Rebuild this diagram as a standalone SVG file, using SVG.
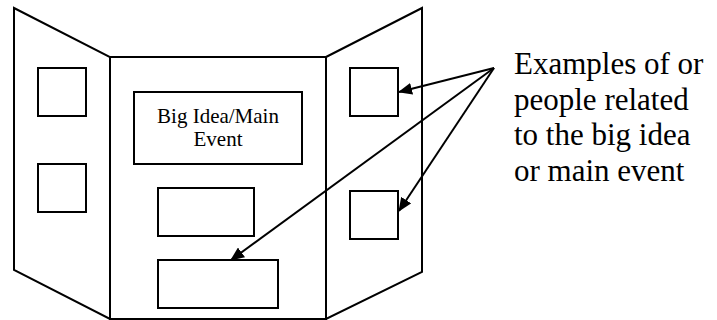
<svg xmlns="http://www.w3.org/2000/svg" width="717" height="320" viewBox="0 0 717 320">
  <style>
    .panel { fill: #ffffff; stroke: #000000; stroke-width: 2; stroke-linejoin: miter; }
    .box { fill: #ffffff; stroke: #000000; stroke-width: 2; }
    .conn { fill: none; stroke: #000000; stroke-width: 2; marker-end: url(#arrow); }
    .lbl { font-family: "Liberation Serif", "Times New Roman", serif; fill: #000000; }
    .small { font-size: 21px; text-anchor: middle; }
    .big { font-size: 31px; }
  </style>
  <defs>
    <marker id="arrow" markerUnits="userSpaceOnUse" markerWidth="14" markerHeight="12" refX="13" refY="6" orient="auto">
      <path d="M0,0 L14,6 L0,12 z" fill="#000000"/>
    </marker>
  </defs>
  <rect width="717" height="320" fill="#ffffff"/>

  <g id="left-panel">
    <polygon class="panel" points="14,8 110,57 110,319 14,270"/>
  </g>
  <g id="center-panel">
    <rect class="panel" x="110" y="57" width="216" height="262"/>
  </g>
  <g id="right-panel">
    <polygon class="panel" points="326,57 422,8 422,272 326,319"/>
  </g>

  <g id="left-square-1"><rect class="box" x="38" y="68" width="48" height="48"/></g>
  <g id="left-square-2"><rect class="box" x="38" y="164" width="48" height="48"/></g>

  <g id="big-idea">
    <rect class="box" x="134" y="92" width="168" height="72"/>
    <text class="lbl small" x="218" y="122.5">Big Idea/Main</text>
    <text class="lbl small" x="218" y="146">Event</text>
  </g>
  <g id="center-box-1"><rect class="box" x="158" y="188" width="96" height="48"/></g>
  <g id="center-box-2"><rect class="box" x="158" y="260" width="120" height="48"/></g>

  <g id="right-square-1"><rect class="box" x="350" y="68" width="48" height="48"/></g>
  <g id="right-square-2"><rect class="box" x="350" y="191" width="48" height="48"/></g>

  <g id="examples-label">
    <text class="lbl big" x="514" y="74">Examples of or</text>
    <text class="lbl big" x="514" y="109.5">people related</text>
    <text class="lbl big" x="514" y="145">to the big idea</text>
    <text class="lbl big" x="514" y="180.5">or main event</text>
  </g>

  <g id="connectors">
    <line class="conn" x1="494" y1="68" x2="399" y2="92"/>
    <line class="conn" x1="494" y1="68" x2="399" y2="211"/>
    <line class="conn" x1="494" y1="68" x2="231" y2="260"/>
  </g>
</svg>
